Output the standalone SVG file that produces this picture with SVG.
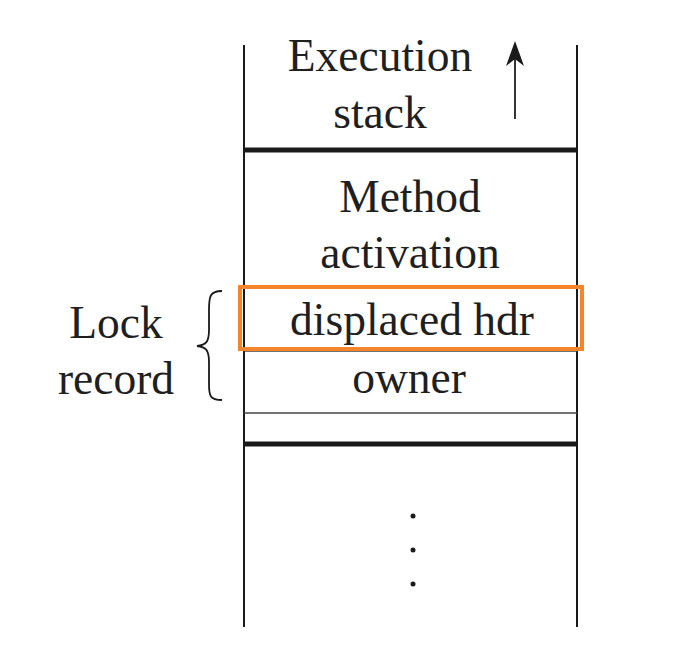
<svg xmlns="http://www.w3.org/2000/svg" width="691" height="652" viewBox="0 0 691 652">
<style>
text{font-family:"Liberation Serif","Times New Roman",serif;font-size:45.5px;fill:#1f1f1f;text-anchor:middle}
.wall{stroke:#1a1a1a;stroke-width:2;fill:none}
.thin{stroke:#444;stroke-width:1.5;fill:none}
.thick{stroke:#1a1a1a;stroke-width:5;fill:none}
.hl{stroke:#f5842a;stroke-width:4;fill:none}
</style>
<rect width="691" height="652" fill="#fff"/>
<g id="stack">
<line class="wall" x1="244" y1="45" x2="244" y2="627"/>
<line class="wall" x1="577" y1="45" x2="577" y2="627"/>
<line class="thick" x1="244" y1="150" x2="577" y2="150"/>
<line class="thin" x1="244" y1="288" x2="577" y2="288"/>
<line class="thin" x1="244" y1="351" x2="577" y2="351"/>
<line class="thin" x1="244" y1="413" x2="577" y2="413"/>
<line class="thick" x1="244" y1="444" x2="577" y2="444"/>
</g>
<g id="execution-stack">
<text x="380" y="71">Execution</text>
<text x="380" y="128">stack</text>
</g>
<g id="connectors">
<line x1="515" y1="119" x2="515" y2="58" stroke="#333" stroke-width="2"/>
<path d="M515 41 L524 66 L515 59 L506 66 Z" fill="#1a1a1a"/>
</g>
<g id="method-activation">
<text x="410" y="212">Method</text>
<text x="410" y="268">activation</text>
</g>
<g id="displaced-hdr">
<text x="412" y="335">displaced hdr</text>
<rect class="hl" x="240" y="287" width="342" height="62"/>
</g>
<g id="owner">
<text x="409" y="393">owner</text>
</g>
<g id="lock-record">
<text x="116" y="338">Lock</text>
<text x="116" y="394">record</text>
<path d="M222 291 C210 291 209 296 209 310 L209 330 C209 342 206 345 197 346 C206 347 209 350 209 362 L209 384 C209 396 210 400 222 400" fill="none" stroke="#1a1a1a" stroke-width="1.8"/>
</g>
<g id="ellipsis" fill="#1a1a1a">
<circle cx="413" cy="516" r="2.5"/>
<circle cx="413" cy="550" r="2.5"/>
<circle cx="413" cy="584" r="2.5"/>
</g>
</svg>
